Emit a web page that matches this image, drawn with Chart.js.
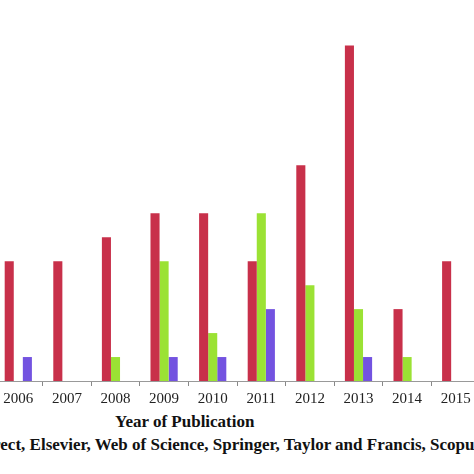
<!DOCTYPE html>
<html><head><meta charset="utf-8">
<script src="https://cdn.jsdelivr.net/npm/chart.js@4"></script>
<style>
html,body{margin:0;padding:0;background:#fff;width:474px;height:474px;overflow:hidden;position:relative}
#wrap{position:absolute;left:-6px;top:0;width:486px;height:412px}
.t{position:absolute;font-family:"Liberation Serif",serif;font-weight:bold;font-size:17px;color:#111;white-space:nowrap}
</style></head><body>
<div id="wrap"><canvas id="c"></canvas></div>
<div class="t" style="left:115px;top:412px">Year of Publication</div>
<div class="t" id="leg" style="top:435px"><span id="hid">Science Dir</span>ect, Elsevier, Web of Science, Springer, Taylor and Francis, Scopus</div>
<script>
const years=['2006','2007','2008','2009','2010','2011','2012','2013','2014','2015'];
const redVals=[5,5,6,7,7,5,9,14,3,5];
const greenVals=[0,0,1,5,2,7,4,3,1,0];
const blueVals=[1,0,0,1,1,3,0,1,0,0];
document.getElementById('leg').style.left=(-document.getElementById('hid').offsetWidth)+'px';
new Chart(document.getElementById('c'),{type:'bar',
data:{labels:years,datasets:[
{data:redVals,backgroundColor:'#c8304a'},
{data:greenVals,backgroundColor:'#9be234'},
{data:blueVals,backgroundColor:'#7353e0'}]},
options:{responsive:true,maintainAspectRatio:false,animation:false,
layout:{padding:0},
plugins:{legend:{display:false},tooltip:{enabled:false}},
datasets:{bar:{categoryPercentage:0.56,barPercentage:1}},
scales:{
x:{offset:true,grid:{offset:true,drawOnChartArea:false,tickLength:5,color:'#888'},border:{color:'#999'},
ticks:{color:'#222',padding:4,font:{family:'Liberation Serif',size:15}}},
y:{display:false,min:0,max:15.9}}}});
</script></body></html>
